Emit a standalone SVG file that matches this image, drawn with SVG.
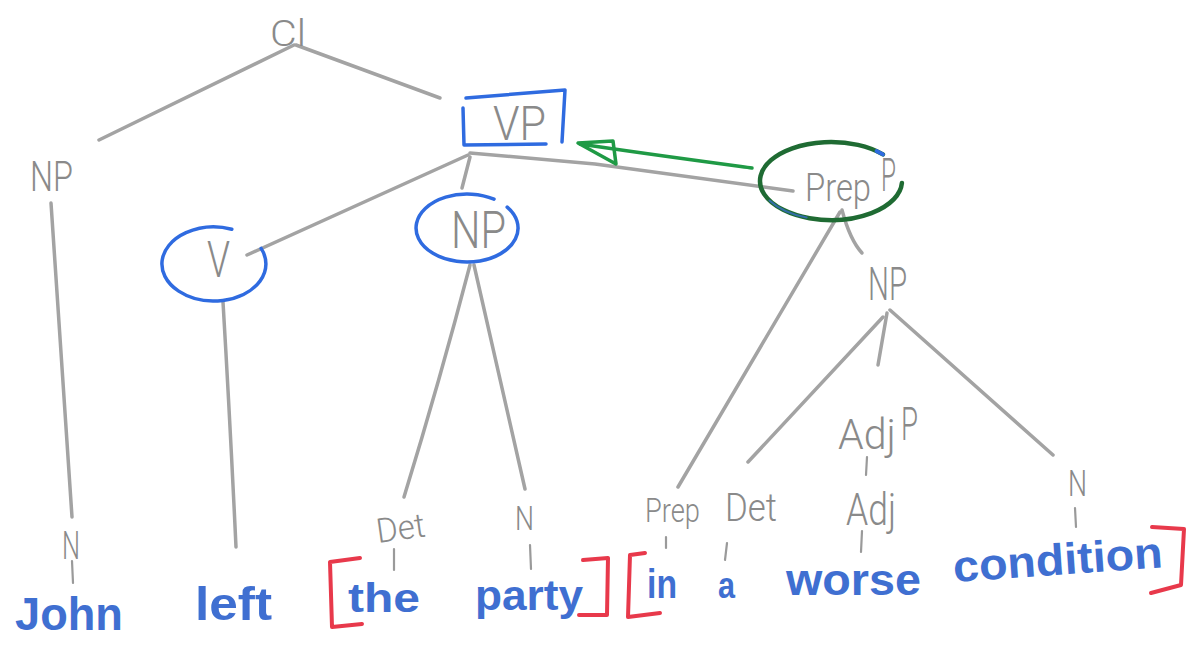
<svg xmlns="http://www.w3.org/2000/svg" width="1189" height="656" viewBox="0 0 1189 656">
<defs>
<style>
.ln{fill:none;stroke:#a3a3a3;stroke-width:3.5;stroke-linecap:round;stroke-linejoin:round}
.tk{fill:none;stroke:#9a9a9a;stroke-width:2.2;stroke-linecap:round}
.lb{font-family:Roboto,"Liberation Sans",sans-serif;font-weight:300;fill:#8a8a8a}
.wd{font-family:"Liberation Sans",Arial,sans-serif;font-weight:700;fill:#3f6fd1}
.blue{fill:none;stroke:#2f6be0;stroke-width:3.5;stroke-linecap:round;stroke-linejoin:round}
.br{fill:none;stroke:#e8394b;stroke-width:4;stroke-linecap:round;stroke-linejoin:round}
.grn{fill:none;stroke:#1f9a45;stroke-width:3.5;stroke-linecap:round;stroke-linejoin:round}
.dg{fill:none;stroke:#1f6b33;stroke-width:4.5;stroke-linecap:round}
</style>
</defs>
<rect width="1189" height="656" fill="#ffffff"/>

<g id="connectors">
  <path class="ln" d="M294,45 L99,140"/>
  <path class="ln" d="M296,45 L440,98"/>
  <path class="ln" d="M51,203 Q62,360 72,517"/>
  <path class="ln" d="M468,155 L247,255"/>
  <path class="ln" d="M470,157 L462,188"/>
  <path class="ln" d="M470,153 L595,164 L793,191"/>
  <path class="ln" d="M223,302 Q230,420 236,547"/>
  <path class="ln" d="M470,265 Q440,380 404,497"/>
  <path class="ln" d="M474,265 Q500,380 525,489"/>
  <path class="ln" d="M840,212 L678,487"/>
  <path class="ln" d="M842,210 Q850,240 862,253"/>
  <path class="ln" d="M883,317 L748,462"/>
  <path class="ln" d="M887,313 L878,365"/>
  <path class="ln" d="M890,310 L1053,455"/>
  <path class="tk" d="M867,457 L866,475"/>
  <path class="tk" d="M862,531 L861,552"/>
  <path class="tk" d="M72,561 L73,583"/>
  <path class="tk" d="M394,549 L394,570"/>
  <path class="tk" d="M530,545 L531,569"/>
  <path class="tk" d="M666,537 L666,548"/>
  <path class="tk" d="M727,543 L725,560"/>
  <path class="tk" d="M1075,508 L1076,527"/>
  <path class="grn" d="M752,168 C700,161 640,153 580,144"/>
  <path class="grn" d="M578,143 L613,141 L616,164 Z"/>
</g>

<g id="node-cl">
  <text class="lb" x="270" y="46" font-size="36" textLength="36" lengthAdjust="spacingAndGlyphs">Cl</text>
</g>

<g id="node-np-subject">
  <text class="lb" x="30" y="191" font-size="42" textLength="43" lengthAdjust="spacingAndGlyphs">NP</text>
</g>

<g id="node-vp">
  <path class="blue" d="M466,98 L565,90 L562,142"/>
  <path class="blue" d="M463,108 L464,145 L546,144"/>
  <text class="lb" x="493" y="140" font-size="48" textLength="53" lengthAdjust="spacingAndGlyphs">VP</text>
</g>

<g id="node-v">
  <path class="blue" d="M261.1,248.4 A52,37 0 1 1 231.8,229.2"/>
  <text class="lb" x="207" y="277" font-size="50" textLength="23" lengthAdjust="spacingAndGlyphs">V</text>
</g>

<g id="node-np-object">
  <path class="blue" d="M507.2,207.1 A51,34 0 1 1 494,199.2"/>
  <text class="lb" x="451" y="248" font-size="52" textLength="55" lengthAdjust="spacingAndGlyphs">NP</text>
</g>

<g id="node-prepp">
  <path class="dg" d="M901.9,183 A71,39 0 1 1 882.9,154.4"/>
  <path d="M876.6,151.1 A71,39 0 0 1 882.9,154.4" fill="none" stroke="#2f6be0" stroke-width="4" stroke-linecap="round"/>
  <path d="M806.7,217.6 A71,39 0 0 1 769.5,200.5" fill="none" stroke="#3a6fd8" stroke-width="2" stroke-linecap="round" opacity="0.7"/>
  <text class="lb" x="805" y="201" font-size="38" textLength="66" lengthAdjust="spacingAndGlyphs">Prep</text>
  <text class="lb" x="881" y="191" font-size="46" textLength="15" lengthAdjust="spacingAndGlyphs">P</text>
</g>

<g id="node-np-inner">
  <text class="lb" x="868" y="300" font-size="46" textLength="39" lengthAdjust="spacingAndGlyphs">NP</text>
</g>

<g id="node-adjp">
  <text class="lb" x="838" y="449" font-size="42" textLength="58" lengthAdjust="spacingAndGlyphs">Adj</text>
  <text class="lb" x="901" y="440" font-size="46" textLength="17" lengthAdjust="spacingAndGlyphs">P</text>
</g>

<g id="node-adj">
  <text class="lb" x="846" y="525" font-size="44" textLength="50" lengthAdjust="spacingAndGlyphs">Adj</text>
</g>

<g id="node-n-john">
  <text class="lb" x="62" y="559" font-size="38" textLength="18" lengthAdjust="spacingAndGlyphs">N</text>
</g>

<g id="node-det-the">
  <text class="lb" x="378" y="543" font-size="34" textLength="49" lengthAdjust="spacingAndGlyphs" transform="rotate(-8 378 543)">Det</text>
</g>

<g id="node-n-party">
  <text class="lb" x="515" y="530" font-size="34" textLength="19" lengthAdjust="spacingAndGlyphs">N</text>
</g>

<g id="node-prep">
  <text class="lb" x="645" y="522" font-size="34" textLength="55" lengthAdjust="spacingAndGlyphs">Prep</text>
</g>

<g id="node-det-a">
  <text class="lb" x="725" y="521" font-size="38" textLength="52" lengthAdjust="spacingAndGlyphs">Det</text>
</g>

<g id="node-n-condition">
  <text class="lb" x="1068" y="496" font-size="36" textLength="19" lengthAdjust="spacingAndGlyphs">N</text>
</g>

<g id="words">
  <text class="wd" x="15" y="630" font-size="46" textLength="108" lengthAdjust="spacingAndGlyphs">John</text>
  <text class="wd" x="195" y="620" font-size="46" textLength="77" lengthAdjust="spacingAndGlyphs">left</text>
  <text class="wd" x="348" y="612" font-size="40" textLength="72" lengthAdjust="spacingAndGlyphs">the</text>
  <text class="wd" x="475" y="610" font-size="42" textLength="108" lengthAdjust="spacingAndGlyphs">party</text>
  <text class="wd" x="647" y="598" font-size="40" textLength="30" lengthAdjust="spacingAndGlyphs">in</text>
  <text class="wd" x="718" y="598" font-size="36" textLength="17" lengthAdjust="spacingAndGlyphs">a</text>
  <text class="wd" x="786" y="595" font-size="44" textLength="135" lengthAdjust="spacingAndGlyphs">worse</text>
  <text class="wd" x="954" y="582" font-size="44" textLength="210" lengthAdjust="spacingAndGlyphs" transform="rotate(-4 954 582)">condition</text>
</g>

<g id="brackets">
  <path class="br" d="M360,558 L330,562 L332,627 L362,624"/>
  <path class="br" d="M583,560 L608,558 L607,615 L579,615"/>
  <path class="br" d="M645,553 L630,555 L628,617 L660,613"/>
  <path class="br" d="M1152,527 L1184,529 L1181,585 L1151,593"/>
</g>
</svg>
